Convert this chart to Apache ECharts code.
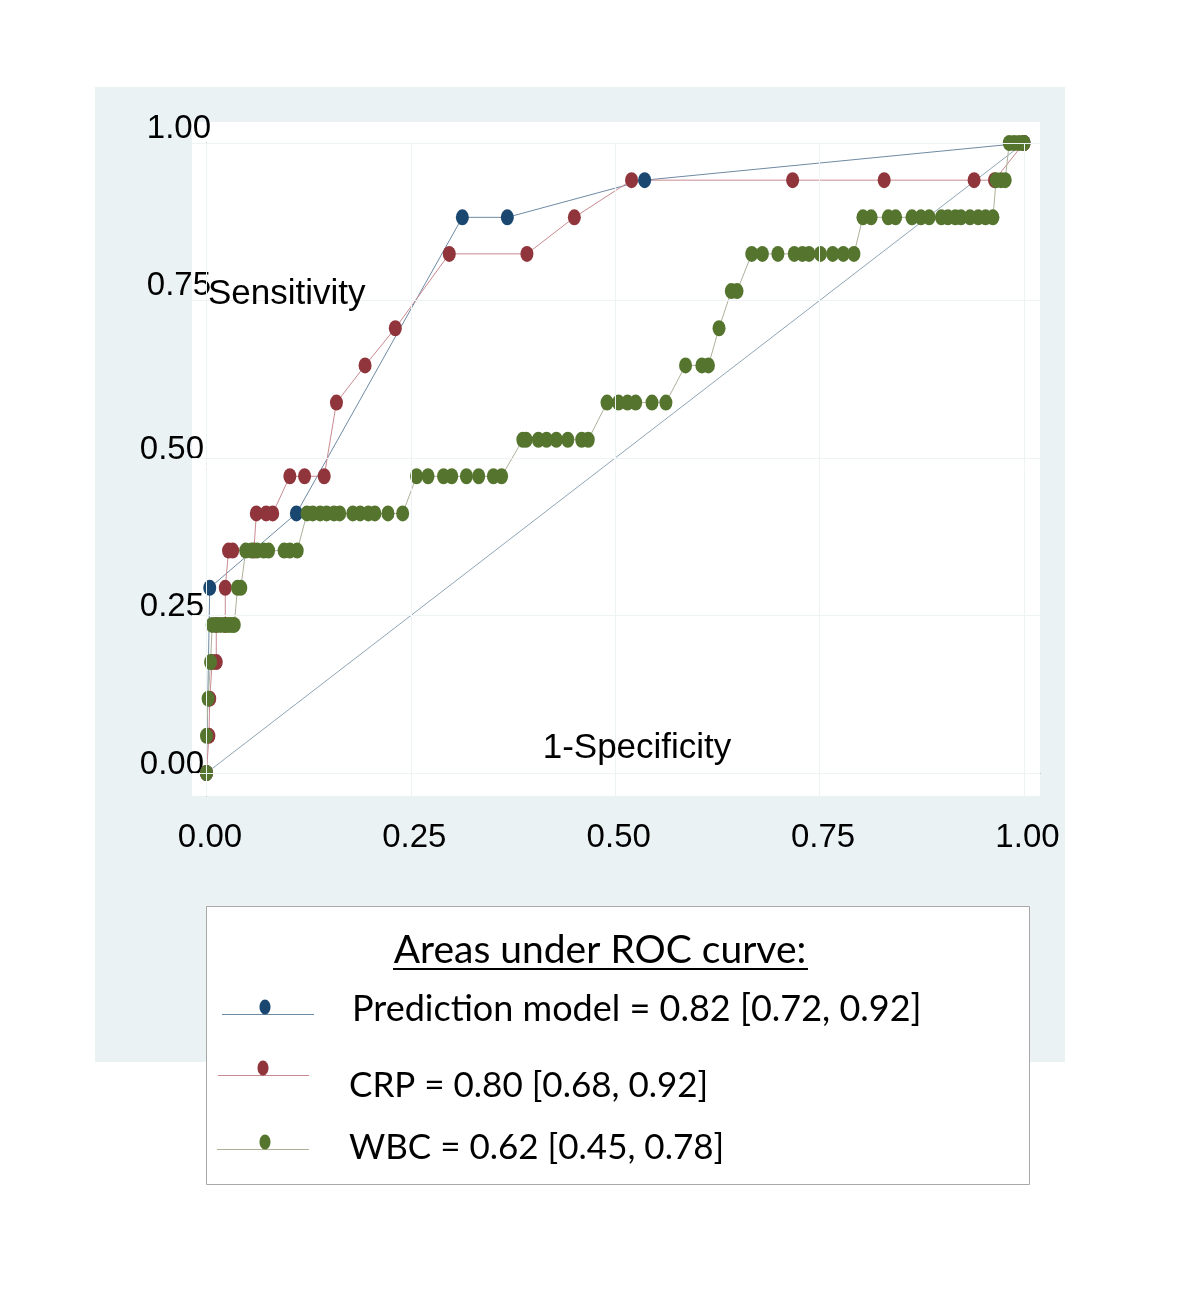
<!DOCTYPE html>
<html>
<head>
<meta charset="utf-8">
<title>ROC curves</title>
<script src="https://cdn.jsdelivr.net/npm/echarts@6/dist/echarts.min.js"></script>
<style>
  html, body { margin: 0; padding: 0; background: #fff; }
  #chart { width: 1200px; height: 1298px; }
</style>
</head>
<body>
<div id="chart"></div>
<script>
// axis ticks
const axisTicks = [0, 0.25, 0.5, 0.75, 1];
const tickLabels = ['0.00', '0.25', '0.50', '0.75', '1.00'];

// Prediction model
const predFpr = [0, 0.004, 0.110, 0.313, 0.368, 0.536, 1];
const predSens = [0, 0.294, 0.412, 0.882, 0.882, 0.941, 1];

// CRP
const crpFpr = [0, 0.003, 0.004, 0.007, 0.012, 0.012, 0.023, 0.023, 0.027, 0.032, 0.058,
  0.061, 0.073, 0.081, 0.102, 0.120, 0.144, 0.159, 0.194, 0.231, 0.297, 0.392,
  0.450, 0.520, 0.717, 0.829, 0.939, 0.964, 1];
const crpSens = [0, 0.059, 0.118, 0.176, 0.176, 0.235, 0.235, 0.294, 0.353, 0.353, 0.353,
  0.412, 0.412, 0.412, 0.471, 0.471, 0.471, 0.588, 0.647, 0.706, 0.824, 0.824,
  0.882, 0.941, 0.941, 0.941, 0.941, 0.941, 1];

// WBC
const wbcFpr = [0, 0, 0.002, 0.005,
  0.007, 0.012, 0.017, 0.022, 0.027, 0.031, 0.034,
  0.038, 0.042,
  0.048, 0.055, 0.062, 0.070, 0.076, 0.095, 0.102, 0.111,
  0.123, 0.130, 0.139, 0.147, 0.156, 0.163, 0.179, 0.188, 0.198, 0.206, 0.222, 0.240,
  0.257, 0.271, 0.290, 0.300, 0.318, 0.333, 0.351, 0.361,
  0.387, 0.391, 0.406, 0.416, 0.428, 0.442, 0.459, 0.467,
  0.490, 0.504, 0.515, 0.525, 0.545, 0.562,
  0.586, 0.606, 0.614,
  0.627,
  0.642, 0.649,
  0.667, 0.680, 0.699, 0.719, 0.729, 0.737, 0.751, 0.766, 0.779, 0.792,
  0.803, 0.813, 0.834, 0.843, 0.863, 0.874, 0.884, 0.899, 0.907, 0.916, 0.923, 0.934, 0.944, 0.953, 0.962,
  0.966, 0.972, 0.977,
  0.982, 0.988, 0.994, 1];
const wbcSens = [0, 0.059, 0.118, 0.176,
  0.235, 0.235, 0.235, 0.235, 0.235, 0.235, 0.235,
  0.294, 0.294,
  0.353, 0.353, 0.353, 0.353, 0.353, 0.353, 0.353, 0.353,
  0.412, 0.412, 0.412, 0.412, 0.412, 0.412, 0.412, 0.412, 0.412, 0.412, 0.412, 0.412,
  0.471, 0.471, 0.471, 0.471, 0.471, 0.471, 0.471, 0.471,
  0.529, 0.529, 0.529, 0.529, 0.529, 0.529, 0.529, 0.529,
  0.588, 0.588, 0.588, 0.588, 0.588, 0.588,
  0.647, 0.647, 0.647,
  0.706,
  0.765, 0.765,
  0.824, 0.824, 0.824, 0.824, 0.824, 0.824, 0.824, 0.824, 0.824, 0.824,
  0.882, 0.882, 0.882, 0.882, 0.882, 0.882, 0.882, 0.882, 0.882, 0.882, 0.882, 0.882, 0.882, 0.882, 0.882,
  0.941, 0.941, 0.941,
  1, 1, 1, 1];

const refLine = [[0, 0], [1, 1]];

const legendTitle = 'Areas under ROC curve:';
const legendItems = [
  'Prediction model = 0.82 [0.72, 0.92]',
  'CRP = 0.80 [0.68, 0.92]',
  'WBC = 0.62 [0.45, 0.78]'
];

const navy = '#1a476f';
const maroon = '#90353b';
const forest = '#55752f';
const axisGray = '#8c8c8c';
const tickFont = '"Liberation Sans", Arial, sans-serif';
const legendFont = 'Lato, "Open Sans", sans-serif';

function pts(xs, ys) {
  return xs.map((x, i) => [x, ys[i]]);
}

function rocSeries(name, xs, ys, markerColor, lineColor) {
  return {
    name: name,
    type: 'line',
    data: pts(xs, ys),
    symbol: 'circle',
    symbolSize: [13, 16],
    showAllSymbol: true,
    itemStyle: { color: markerColor },
    lineStyle: { color: lineColor, width: 1 },
    emphasis: { disabled: true },
    animation: false
  };
}

function textEl(str, x, y, font, align) {
  return {
    type: 'text', z: 50, x: x, y: y,
    style: { text: str, font: font, fill: '#000', align: align, verticalAlign: 'middle', textAlign: align, textVerticalAlign: 'middle' }
  };
}

const chart = echarts.init(document.getElementById('chart'));

const option = {
  animation: false,
  graphic: [
    // outer panel
    { type: 'rect', z: -20, shape: { x: 95, y: 87, width: 970, height: 975 }, style: { fill: '#eaf2f3' } },
    // plot region
    { type: 'rect', z: -19, shape: { x: 192, y: 122, width: 848, height: 674 }, style: { fill: '#ffffff' } },
    // axis titles
    textEl('Sensitivity', 208, 294, '35px ' + tickFont, 'left'),
    textEl('1-Specificity', 637, 748, '35px ' + tickFont, 'center'),
    // legend box
    { type: 'rect', z: 40, shape: { x: 206.5, y: 906.5, width: 823, height: 278 }, style: { fill: '#fff', stroke: '#a8a8a8', lineWidth: 1 } },
    textEl(legendTitle, 600, 950, '39px ' + legendFont, 'center'),
    { type: 'line', z: 50, shape: { x1: 393, y1: 969, x2: 808, y2: 969 }, style: { stroke: '#000', lineWidth: 2 } },
    // legend keys
    { type: 'line', z: 50, shape: { x1: 222, y1: 1014.5, x2: 314, y2: 1014.5 }, style: { stroke: '#6f8aa3', lineWidth: 1 } },
    { type: 'ellipse', z: 51, shape: { cx: 265, cy: 1007, rx: 5.5, ry: 7.5 }, style: { fill: navy } },
    { type: 'line', z: 50, shape: { x1: 218, y1: 1075.5, x2: 309, y2: 1075.5 }, style: { stroke: '#c98a90', lineWidth: 1 } },
    { type: 'ellipse', z: 51, shape: { cx: 263, cy: 1068, rx: 5.5, ry: 7.5 }, style: { fill: maroon } },
    { type: 'line', z: 50, shape: { x1: 217, y1: 1149.5, x2: 309, y2: 1149.5 }, style: { stroke: '#aeb09a', lineWidth: 1 } },
    { type: 'ellipse', z: 51, shape: { cx: 265, cy: 1142, rx: 5.5, ry: 7.5 }, style: { fill: forest } },
    textEl(legendItems[0], 352, 1009, '36px ' + legendFont, 'left'),
    textEl(legendItems[1], 349, 1086, '35px ' + legendFont, 'left'),
    textEl(legendItems[2], 349, 1148, '35px ' + legendFont, 'left')
  ],
  grid: {
    left: 192,
    top: 143,
    width: 848,
    height: 653,
    show: false
  },
  xAxis: {
    type: 'value',
    min: -0.0177,
    max: 1.0196,
    axisLine: { show: true, lineStyle: { color: axisGray, width: 1 } },
    axisTick: { show: true, length: 12, customValues: axisTicks, lineStyle: { color: axisGray } },
    axisLabel: {
      customValues: axisTicks,
      margin: 25,
      color: '#000',
      fontSize: 33,
      fontFamily: tickFont,
      padding: [0, 0, 0, 7],
      formatter: v => tickLabels[axisTicks.indexOf(v)]
    },
    splitLine: { show: false }
  },
  yAxis: {
    type: 'value',
    min: -0.0365,
    max: 1,
    axisLine: { show: true, lineStyle: { color: axisGray, width: 1 } },
    axisTick: { show: true, length: 10, customValues: axisTicks, lineStyle: { color: axisGray } },
    axisLabel: {
      customValues: axisTicks,
      margin: -19,
      align: 'right',
      color: '#000',
      formatter: v => {
        const s = tickLabels[axisTicks.indexOf(v)];
        return v >= 0.75 ? '{hi|' + s + '}' : '{lo|' + s + '}';
      },
      rich: {
        hi: { fontSize: 33, fontFamily: tickFont, color: '#000', padding: [0, 0, 29, 0] },
        lo: { fontSize: 33, fontFamily: tickFont, color: '#000', padding: [0, 7, 17, 0] }
      }
    },
    splitLine: { show: false }
  },
  series: [
    {
      name: 'Reference',
      type: 'line',
      data: refLine,
      symbol: 'none',
      lineStyle: { color: '#8fa5b3', width: 1 },
      emphasis: { disabled: true },
      markLine: {
        silent: true,
        symbol: 'none',
        label: { show: false },
        lineStyle: { color: '#eef3f4', width: 1, type: 'solid' },
        data: axisTicks.map(v => ({ xAxis: v })).concat(axisTicks.map(v => ({ yAxis: v })))
      }
    },
    rocSeries('Prediction model', predFpr, predSens, navy, '#6f8aa3'),
    rocSeries('CRP', crpFpr, crpSens, maroon, '#c98a90'),
    rocSeries('WBC', wbcFpr, wbcSens, forest, '#aeb09a')
  ]
};

chart.setOption(option);
</script>
</body>
</html>
